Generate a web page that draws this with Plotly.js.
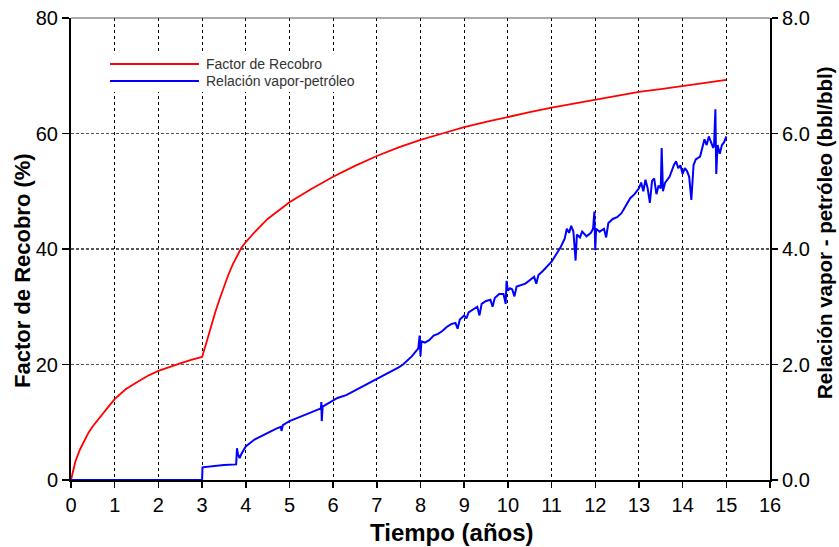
<!DOCTYPE html>
<html>
<head>
<meta charset="utf-8">
<script src="https://cdn.plot.ly/plotly-3.0.1.min.js"></script>
<style>html,body{margin:0;padding:0;background:#fff;}#chart{width:839px;height:547px;}</style>
</head>
<body>
<div id="chart"></div>
<script>
// Factor de Recobro (%), left axis
const recoveryYears = [0,0.05,0.1,0.2,0.3,0.4,0.5,0.6,0.75,0.9,1,1.25,1.5,1.75,2,2.25,2.5,2.75,3,3.1,3.2,3.3,3.4,3.5,3.6,3.7,3.8,3.9,4,4.2,4.5,5,5.5,6,6.5,7,7.5,8,8.5,9,9.5,10,10.5,11,11.5,12,12.5,13,13.5,14,14.5,15];
const recoveryFactor = [0,1.5,3.2,5.2,6.8,8.2,9.3,10.3,11.8,13.1,14.0,15.7,16.9,18.0,18.9,19.6,20.2,20.8,21.3,23.8,26.5,29.0,31.3,33.5,35.5,37.3,38.9,40.2,41.2,42.9,45.2,48.1,50.4,52.5,54.4,56.1,57.6,58.9,60.0,61.1,62.0,62.9,63.7,64.5,65.2,65.9,66.6,67.2,67.7,68.2,68.8,69.3];

// Relación vapor-petróleo (bbl/bbl), right axis
const sorYears = [0,3.0,3.01,3.2,3.5,3.78,3.8,3.82,3.86,3.9,4.0,4.1,4.2,4.3,4.4,4.5,4.6,4.7,4.8,4.82,4.85,5.0,5.2,5.4,5.6,5.72,5.73,5.74,5.76,5.9,6.0,6.1,6.3,6.5,6.7,6.9,7.0,7.2,7.4,7.5,7.6,7.8,7.95,7.98,8.0,8.02,8.1,8.2,8.3,8.4,8.5,8.6,8.7,8.8,8.85,8.9,9.0,9.05,9.1,9.2,9.3,9.35,9.4,9.5,9.6,9.65,9.7,9.8,9.9,9.95,9.97,10.0,10.05,10.1,10.15,10.2,10.3,10.4,10.5,10.6,10.65,10.7,10.8,10.9,11.0,11.1,11.2,11.3,11.35,11.4,11.45,11.5,11.55,11.58,11.65,11.7,11.8,11.9,11.95,11.98,12.0,12.02,12.1,12.2,12.25,12.3,12.4,12.5,12.6,12.7,12.8,12.9,13.0,13.05,13.1,13.15,13.2,13.25,13.3,13.35,13.4,13.45,13.5,13.52,13.55,13.6,13.7,13.8,13.85,13.9,13.95,14.0,14.05,14.1,14.15,14.2,14.25,14.3,14.4,14.5,14.55,14.6,14.65,14.7,14.72,14.75,14.77,14.8,14.85,14.9,14.95,15.0];
const sorValues = [0,0,0.22,0.24,0.26,0.27,0.55,0.45,0.38,0.45,0.58,0.64,0.70,0.74,0.78,0.82,0.85,0.89,0.92,0.85,0.95,1.02,1.08,1.14,1.20,1.24,1.35,1.02,1.27,1.33,1.38,1.42,1.47,1.55,1.62,1.70,1.74,1.82,1.90,1.95,2.00,2.14,2.28,2.50,2.15,2.40,2.38,2.42,2.50,2.53,2.58,2.65,2.70,2.72,2.62,2.78,2.85,2.80,2.90,2.95,3.00,2.85,3.05,3.10,3.12,3.00,3.15,3.22,3.22,3.05,3.45,3.28,3.32,3.30,3.18,3.35,3.38,3.40,3.46,3.52,3.40,3.55,3.62,3.70,3.78,3.90,4.02,4.18,4.35,4.28,4.40,4.30,3.80,4.25,4.20,4.30,4.22,4.28,4.35,4.65,3.98,4.35,4.30,4.35,4.20,4.45,4.52,4.55,4.62,4.75,4.88,4.95,5.05,5.15,5.00,5.20,5.05,4.80,5.18,5.22,4.95,5.10,5.05,5.75,5.00,5.15,5.25,5.45,5.52,5.40,5.45,5.30,5.40,5.35,5.25,4.85,5.45,5.55,5.60,5.90,5.80,5.95,5.85,5.75,5.80,6.42,5.30,5.80,5.65,5.80,5.85,5.95];

const xTicks = [0,1,2,3,4,5,6,7,8,9,10,11,12,13,14,15,16];
const leftTicks = [0,20,40,60,80];
const rightTicks = [0,2,4,6,8];

const FONT = 'Arial, "Liberation Sans", sans-serif';

const traces = [
  {x: recoveryYears, y: recoveryFactor, type: 'scatter', mode: 'lines', name: 'Factor de Recobro',
   line: {color: '#ff0000', width: 1.8}, yaxis: 'y', showlegend: false},
  {x: sorYears, y: sorValues, type: 'scatter', mode: 'lines', name: 'Relación vapor-petróleo',
   line: {color: '#0000ff', width: 2}, yaxis: 'y2', showlegend: false}
];

const layout = {
  width: 839, height: 547,
  margin: {l: 71, r: 69, t: 18, b: 67},
  paper_bgcolor: '#fff', plot_bgcolor: '#fff',
  font: {family: FONT, size: 20, color: '#000'},
  showlegend: false,
  xaxis: {
    range: [0, 16], tickvals: xTicks, ticktext: xTicks.map(String),
    showgrid: true, gridcolor: '#000', gridwidth: 1, griddash: '3px,3px',
    zeroline: false, showline: true, linecolor: '#000', linewidth: 2,
    ticks: 'outside', ticklen: 6, tickwidth: 1.5, tickcolor: '#000',
    tickfont: {size: 20, family: FONT, color: '#000'}
  },
  yaxis: {
    range: [0, 80], tickvals: leftTicks, ticktext: leftTicks.map(String),
    showgrid: true, gridcolor: '#555', gridwidth: 1.4, griddash: '3px,2px',
    zeroline: false, showline: true, linecolor: '#000', linewidth: 2,
    ticks: 'outside', ticklen: 7, tickwidth: 1.5, tickcolor: '#000',
    tickfont: {size: 20, family: FONT, color: '#000'}
  },
  yaxis2: {
    overlaying: 'y', side: 'right', range: [0, 8],
    tickvals: rightTicks, ticktext: rightTicks.map(v => v.toFixed(1)),
    showgrid: false, zeroline: false, showline: true, linecolor: '#000', linewidth: 2,
    ticks: 'outside', ticklen: 6, tickwidth: 1.5, tickcolor: '#000',
    tickfont: {size: 20, family: FONT, color: '#000'}
  },
  shapes: [
    {type: 'line', xref: 'paper', yref: 'paper', x0: 0, x1: 1, y0: 1, y1: 1, line: {color: '#555', width: 1}},
    {type: 'rect', xref: 'paper', yref: 'paper', x0: 0.047, x1: 0.411, y0: 0.840, y1: 0.924,
     fillcolor: '#fff', line: {width: 0}, layer: 'above'},
    {type: 'line', xref: 'paper', yref: 'paper', x0: 0.0558, x1: 0.1831, y0: 0.9004, y1: 0.9004, line: {color: '#ff0000', width: 1.8}},
    {type: 'line', xref: 'paper', yref: 'paper', x0: 0.0558, x1: 0.1831, y0: 0.8636, y1: 0.8636, line: {color: '#0000ff', width: 1.8}}
  ],
  annotations: [
    {text: 'Factor de Recobro', xref: 'paper', yref: 'paper', x: 0.1903, y: 0.9004, xanchor: 'left', yanchor: 'middle',
     showarrow: false, font: {family: FONT, size: 14, color: '#333'}},
    {text: 'Relación vapor-petróleo', xref: 'paper', yref: 'paper', x: 0.1903, y: 0.8636, xanchor: 'left', yanchor: 'middle',
     showarrow: false, font: {family: FONT, size: 14, color: '#333'}},
    {text: '<b>Tiempo (años)</b>', xref: 'paper', yref: 'paper', x: 0.545, y: -0.1147, xanchor: 'center', yanchor: 'middle',
     showarrow: false, font: {family: FONT, size: 24, color: '#000'}},
    {text: '<b>Factor de Recobro (%)</b>', xref: 'paper', yref: 'paper', x: (22 - 71) / 699, y: (480 - 271) / 462, xanchor: 'center', yanchor: 'middle',
     textangle: -90, showarrow: false, font: {family: FONT, size: 22, color: '#000'}},
    {text: '<b>Relación vapor - petróleo (bbl/bbl)</b>', xref: 'paper', yref: 'paper', x: (825 - 71) / 699, y: (480 - 233) / 462, xanchor: 'center', yanchor: 'middle',
     textangle: -90, showarrow: false, font: {family: FONT, size: 20.5, color: '#000'}}
  ]
};

Plotly.newPlot('chart', traces, layout, {displayModeBar: false, staticPlot: true});
</script>
</body>
</html>
